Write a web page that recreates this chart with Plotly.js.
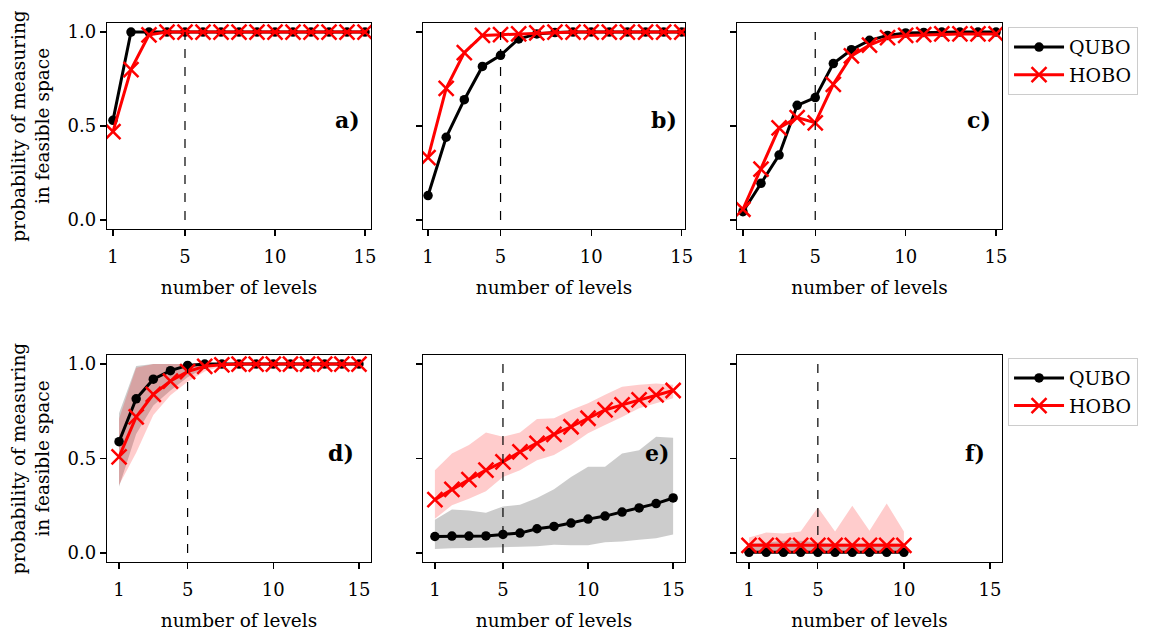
<!DOCTYPE html>
<html>
<head>
<meta charset="utf-8">
<script src="https://cdn.plot.ly/plotly-3.0.1.min.js"></script>
<style>html,body{margin:0;padding:0;background:#fff;}#chart{width:1156px;height:632px;}</style>
</head>
<body>
<div id="chart"></div>
<script>
// ---- data ----
const levels15 = [1,2,3,4,5,6,7,8,9,10,11,12,13,14,15];
const levels10 = [1,2,3,4,5,6,7,8,9,10];
const xTicks = [1,5,10,15];
const yTicks = [0,0.5,1.0];
const yTickLabels = ["0.0","0.5","1.0"];
const panelLabels = ["a)","b)","c)","d)","e)","f)"];

const aQubo = [0.53,1.0,1.0,1.0,1.0,1.0,1.0,1.0,1.0,1.0,1.0,1.0,1.0,1.0,1.0];
const aHobo = [0.47,0.80,0.985,1.0,1.0,1.0,1.0,1.0,1.0,1.0,1.0,1.0,1.0,1.0,1.0];

const bQubo = [0.13,0.44,0.64,0.817,0.876,0.963,0.99,0.997,1.0,1.0,1.0,1.0,1.0,1.0,1.0];
const bHobo = [0.332,0.70,0.89,0.982,0.986,0.99,0.995,1.0,1.0,1.0,1.0,1.0,1.0,1.0,1.0];

const cQubo = [0.044,0.195,0.345,0.61,0.651,0.832,0.906,0.956,0.982,0.995,0.998,1.0,1.0,1.0,1.0];
const cHobo = [0.057,0.27,0.49,0.545,0.517,0.722,0.873,0.93,0.97,0.982,0.986,0.99,0.99,0.99,0.99];

const dQubo = [0.589,0.816,0.92,0.965,0.993,1.0,1.0,1.0,1.0,1.0,1.0,1.0,1.0,1.0,1.0];
const dHobo = [0.509,0.72,0.84,0.91,0.96,0.988,0.996,1.0,1.0,1.0,1.0,1.0,1.0,1.0,1.0];
const dQuboLow = [0.35,0.63,0.78,0.86,0.93,0.98,1.0,1.0,1.0,1.0,1.0,1.0,1.0,1.0,1.0];
const dQuboHigh = [0.74,0.99,1.0,1.0,1.0,1.0,1.0,1.0,1.0,1.0,1.0,1.0,1.0,1.0,1.0];
const dHoboLow = [0.36,0.53,0.73,0.835,0.906,0.96,0.99,1.0,1.0,1.0,1.0,1.0,1.0,1.0,1.0];
const dHoboHigh = [0.71,0.98,1.0,1.0,1.0,1.0,1.0,1.0,1.0,1.0,1.0,1.0,1.0,1.0,1.0];

const eQubo = [0.087,0.089,0.089,0.09,0.098,0.105,0.128,0.14,0.158,0.179,0.195,0.216,0.238,0.261,0.291];
const eHobo = [0.282,0.337,0.388,0.438,0.482,0.535,0.58,0.628,0.668,0.713,0.757,0.784,0.81,0.837,0.86];
const eQuboLow = [0.021,0.024,0.026,0.027,0.03,0.033,0.035,0.043,0.041,0.041,0.057,0.06,0.069,0.078,0.098];
const eQuboHigh = [0.176,0.23,0.224,0.213,0.246,0.255,0.291,0.337,0.402,0.456,0.456,0.527,0.544,0.615,0.61];
const eHoboLow = [0.181,0.252,0.287,0.326,0.402,0.438,0.491,0.518,0.571,0.633,0.677,0.72,0.766,0.793,0.819];
const eHoboHigh = [0.438,0.527,0.571,0.638,0.615,0.638,0.709,0.713,0.757,0.793,0.837,0.88,0.89,0.897,0.89];

const fQubo = [0.003,0.003,0.003,0.003,0.003,0.003,0.003,0.003,0.003,0.003];
const fHobo = [0.04,0.04,0.04,0.04,0.04,0.04,0.04,0.04,0.04,0.04];
const fQuboLow = [0,0,0,0,0,0,0,0,0,0];
const fQuboHigh = [0.05,0.055,0.064,0.064,0.055,0.05,0.05,0.05,0.05,0.05];
const fHoboLow = [0.005,0.005,0.005,0.005,0.005,0.005,0.005,0.005,0.005,0.005];
const fHoboHigh = [0.081,0.108,0.103,0.113,0.241,0.113,0.25,0.117,0.262,0.113];

// ---- styling ----
const FONT = "DejaVu Serif";
const BLACK = "#000000", RED = "#ff0000";
const GRAYFILL = "rgba(0,0,0,0.2)", REDFILL = "rgba(255,0,0,0.2)";
const TICKSIZE = 18, TITLESIZE = 18.5;

const panels = [
  {x: levels15, q: aQubo, h: aHobo, legend: "legend"},
  {x: levels15, q: bQubo, h: bHobo, legend: "legend"},
  {x: levels15, q: cQubo, h: cHobo, legend: "legend"},
  {x: levels15, q: dQubo, h: dHobo, ql: dQuboLow, qh: dQuboHigh, hl: dHoboLow, hh: dHoboHigh, legend: "legend2"},
  {x: levels15, q: eQubo, h: eHobo, ql: eQuboLow, qh: eQuboHigh, hl: eHoboLow, hh: eHoboHigh, legend: "legend2"},
  {x: levels10, q: fQubo, h: fHobo, ql: fQuboLow, qh: fQuboHigh, hl: fHoboLow, hh: fHoboHigh, legend: "legend2"}
];

const xDomains = [[0.0926,0.3209],[0.3659,0.5926],[0.6375,0.8668]];
const yDomains = [[0.6377,0.9636],[0.1108,0.4383]];
const xRanges = [[0.67,15.33],[0.72,15.18],[0.67,15.33],[0.3,15.7],[0.3,15.7],[0.3,15.7]];

function band(x, lo, hi, color, xa, ya) {
  return {
    x: x.concat(x.slice().reverse()),
    y: lo.concat(hi.slice().reverse()),
    xaxis: xa, yaxis: ya, type: "scatter", mode: "none",
    fill: "toself", fillcolor: color, hoverinfo: "skip", showlegend: false
  };
}

const traces = [];
const layout = {
  width: 1156, height: 632,
  margin: {l: 0, r: 0, t: 0, b: 0},
  paper_bgcolor: "#ffffff", plot_bgcolor: "#ffffff",
  font: {family: FONT, size: 18, color: BLACK},
  showlegend: true,
  shapes: [], annotations: []
};

panels.forEach((p, i) => {
  const n = i + 1;
  const xa = n === 1 ? "x" : "x" + n;
  const ya = n === 1 ? "y" : "y" + n;
  const col = i % 3, row = Math.floor(i / 3);
  if (p.ql) {
    traces.push(band(p.x, p.ql, p.qh, GRAYFILL, xa, ya));
    traces.push(band(p.x, p.hl, p.hh, REDFILL, xa, ya));
  }
  traces.push({
    x: p.x, y: p.q, xaxis: xa, yaxis: ya, type: "scatter", mode: "lines+markers",
    name: "QUBO", legend: p.legend, showlegend: (col === 0),
    line: {color: BLACK, width: 3},
    marker: {symbol: "circle", size: 9.5, color: BLACK}
  });
  traces.push({
    x: p.x, y: p.h, xaxis: xa, yaxis: ya, type: "scatter", mode: "lines+markers",
    name: "HOBO", legend: p.legend, showlegend: (col === 0),
    line: {color: RED, width: 3},
    marker: {symbol: "x-thin-open", size: 15, color: RED, line: {color: RED, width: 2.5}}
  });

  const xKey = n === 1 ? "xaxis" : "xaxis" + n;
  const yKey = n === 1 ? "yaxis" : "yaxis" + n;
  layout[xKey] = {
    domain: xDomains[col], anchor: ya, range: xRanges[i],
    tickmode: "array", tickvals: xTicks, ticktext: xTicks.map(String),
    ticks: "outside", ticklen: 6, tickwidth: 1.3, tickcolor: BLACK,
    ticklabelstandoff: 5,
    showline: true, mirror: true, linecolor: BLACK, linewidth: 1.3,
    showgrid: false, zeroline: false,
    tickfont: {family: FONT, size: TICKSIZE, color: BLACK},
    title: {text: "number of levels", font: {family: FONT, size: TITLESIZE, color: BLACK}, standoff: 15}
  };
  layout[yKey] = {
    domain: yDomains[row], anchor: xa, range: [-0.048, 1.048],
    tickmode: "array", tickvals: yTicks, ticktext: yTickLabels,
    showticklabels: col === 0,
    ticks: "outside", ticklen: 6, tickwidth: 1.3, tickcolor: BLACK,
    showline: true, mirror: true, linecolor: BLACK, linewidth: 1.3,
    showgrid: false, zeroline: false,
    tickfont: {family: FONT, size: TICKSIZE, color: BLACK},
    title: col === 0 ? {text: "probability of measuring<br>in feasible space", font: {family: FONT, size: TITLESIZE, color: BLACK}, standoff: 13} : {text: ""}
  };
  layout.shapes.push({
    type: "line", xref: xa, yref: ya, x0: 5, x1: 5, y0: 0, y1: 1,
    line: {color: BLACK, width: 1.2, dash: "dash"}
  });
  layout.annotations.push({
    xref: xa, yref: ya, x: 14.85, y: 0.53, xanchor: "right", yanchor: "middle",
    text: "<b>" + panelLabels[i] + "</b>", showarrow: false,
    font: {family: FONT, size: 22, color: BLACK}
  });
});

const legendStyle = (ytop) => ({
  x: 0.872, xanchor: "left", y: ytop, yanchor: "top",
  bgcolor: "#ffffff", bordercolor: "#cccccc", borderwidth: 1,
  itemwidth: 50,
  font: {family: FONT, size: 19, color: BLACK}
});
layout.legend = legendStyle(0.957);
layout.legend2 = legendStyle(0.4335);

Plotly.newPlot("chart", traces, layout, {displayModeBar: false, staticPlot: true});
</script>
</body>
</html>
